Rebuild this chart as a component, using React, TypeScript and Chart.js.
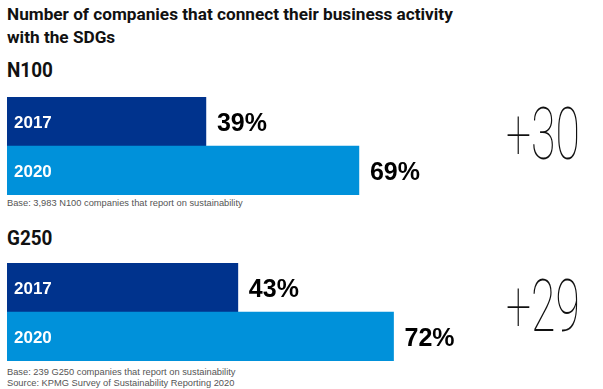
import React, { useEffect, useRef } from "react";
import { Chart, registerables } from "chart.js";
Chart.register(...registerables);

const titleLines = ["Number of companies that connect their business activity", "with the SDGs"];
const years = ["2017", "2020"];
const groupNames = ["N100", "G250"];
const n100Values = [39, 69];
const g250Values = [43, 72];
const n100AxisMax = 100;
const g250AxisMax = 95;
const baseNotes = [
  "Base: 3,983 N100 companies that report on sustainability",
  "Base: 239 G250 companies that report on sustainability",
];
const sourceNote = "Source: KPMG Survey of Sustainability Reporting 2020";
const barColors = ["#00338D", "#0091DA"];

const labelPlugin = {
  id: "barLabels",
  afterDatasetsDraw(chart: any) {
    const ctx = chart.ctx;
    const meta = chart.getDatasetMeta(0);
    const data = chart.data.datasets[0].data;
    const labels = chart.data.labels;
    ctx.save();
    meta.data.forEach((bar: any, i: number) => {
      ctx.fillStyle = "#ffffff";
      ctx.font = "bold 17px 'Liberation Sans', Arial, sans-serif";
      ctx.textAlign = "left";
      ctx.textBaseline = "alphabetic";
      ctx.fillText(String(labels[i]), bar.base + 7, bar.y + 6);
      ctx.fillStyle = "#000000";
      ctx.font = "bold 25px 'Liberation Sans', Arial, sans-serif";
      ctx.fillText(data[i] + "%", bar.x + 11, bar.y + 9);
    });
    ctx.restore();
  },
};

function GroupChart({ values, max, top }: { values: number[]; max: number; top: number }) {
  const ref = useRef<HTMLCanvasElement>(null);
  useEffect(() => {
    const chart = new Chart(ref.current!, {
      type: "bar",
      data: {
        labels: years,
        datasets: [
          {
            data: values,
            backgroundColor: barColors,
            borderWidth: 0,
            categoryPercentage: 1,
            barPercentage: 1,
          },
        ],
      },
      options: {
        indexAxis: "y",
        responsive: false,
        animation: false,
        devicePixelRatio: 1,
        layout: { padding: { left: 7, right: 86, top: 0, bottom: 0 } },
        scales: {
          x: { display: false, min: 0, max },
          y: { display: false },
        },
        plugins: { legend: { display: false }, tooltip: { enabled: false } },
      },
      plugins: [labelPlugin],
    } as any);
    return () => chart.destroy();
  }, []);
  return (
    <canvas
      ref={ref}
      width={603}
      height={98}
      style={{ position: "absolute", left: 0, top, width: 603, height: 98 }}
    />
  );
}

function Txt({ children, style }: { children: React.ReactNode; style: React.CSSProperties }) {
  return <div style={{ position: "absolute", whiteSpace: "nowrap", ...style }}>{children}</div>;
}

export default function App() {
  const diffs = [n100Values[1] - n100Values[0], g250Values[1] - g250Values[0]];
  const titleFont: React.CSSProperties = { fontFamily: "Roboto, sans-serif", fontWeight: 700, color: "#111" };
  const headFont: React.CSSProperties = {
    ...titleFont,
    fontSize: 21,
    lineHeight: "21px",
    transform: "scaleX(0.9)",
    transformOrigin: "left top",
  };
  const noteFont: React.CSSProperties = { fontFamily: "'Liberation Sans', Arial, sans-serif", fontSize: 9.3, lineHeight: "9px", color: "#555" };
  const bigFont: React.CSSProperties = {
    fontFamily: "Roboto, sans-serif",
    fontWeight: 100,
    fontSize: 73,
    lineHeight: "73px",
    color: "#111",
    transform: "scaleX(0.61)",
    transformOrigin: "left top",
  };
  return (
    <div style={{ position: "fixed", left: 0, top: 0, width: 603, height: 389, background: "#fff", overflow: "hidden" }}>
      <Txt style={{ ...titleFont, left: 7, top: 3, fontSize: 17.2, lineHeight: "23px" }}>
        {titleLines[0]}
        <br />
        {titleLines[1]}
      </Txt>
      <Txt style={{ ...headFont, left: 7, top: 60 }}>{groupNames[0]}</Txt>
      <GroupChart values={n100Values} max={n100AxisMax} top={97} />
      <Txt style={{ ...noteFont, left: 7, top: 199 }}>{baseNotes[0]}</Txt>
      <Txt style={{ ...bigFont, left: 506, top: 98 }}>+{diffs[0]}</Txt>

      <Txt style={{ ...headFont, left: 7, top: 228 }}>{groupNames[1]}</Txt>
      <GroupChart values={g250Values} max={g250AxisMax} top={263} />
      <Txt style={{ ...noteFont, left: 7, top: 368 }}>{baseNotes[1]}</Txt>
      <Txt style={{ ...noteFont, left: 7, top: 379 }}>{sourceNote}</Txt>
      <Txt style={{ ...bigFont, left: 506, top: 270 }}>+{diffs[1]}</Txt>
    </div>
  );
}
